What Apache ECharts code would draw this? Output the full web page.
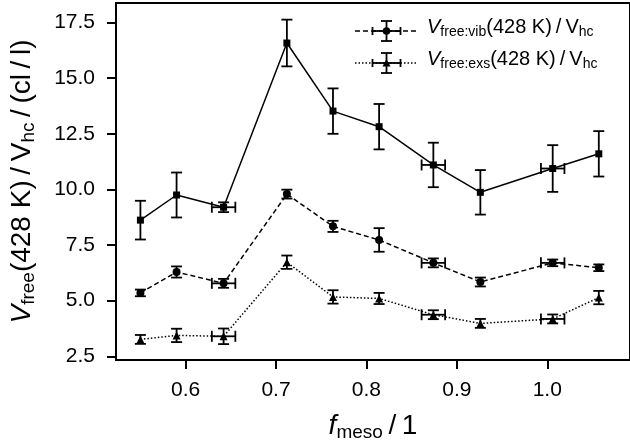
<!DOCTYPE html>
<html><head><meta charset="utf-8">
<script src="https://cdn.jsdelivr.net/npm/echarts@6/dist/echarts.min.js"></script>
<style>html,body{margin:0;padding:0;background:#fff}#c{width:630px;height:447px}</style>
</head><body><div id="c"></div>
<script>
// ---- data ----
const fMeso = [0.55, 0.59, 0.642, 0.712, 0.763, 0.814, 0.874, 0.926, 1.006, 1.057];
const fMesoErr = [0, 0, 0.013, 0, 0, 0, 0.013, 0, 0.013, 0];
const vFree = [8.62, 9.75, 9.20, 16.58, 13.52, 12.82, 11.10, 9.87, 10.94, 11.60];
const vFreeErr = [0.87, 1.01, 0.22, 1.05, 1.02, 1.02, 1.00, 1.00, 1.05, 1.02];
const vFreeVib = [5.35, 6.29, 5.78, 9.79, 8.34, 7.73, 6.70, 5.84, 6.70, 6.48];
const vFreeVibErr = [0.15, 0.25, 0.20, 0.20, 0.25, 0.53, 0.20, 0.20, 0.15, 0.15];
const vFreeExs = [3.26, 3.44, 3.40, 6.73, 5.17, 5.10, 4.37, 3.98, 4.18, 5.14];
const vFreeExsErr = [0.20, 0.30, 0.35, 0.30, 0.30, 0.25, 0.20, 0.20, 0.20, 0.30];
const xTicks = [0.6, 0.7, 0.8, 0.9, 1.0];
const yTicks = [2.5, 5.0, 7.5, 10.0, 12.5, 15.0, 17.5];

const FONT = "'Liberation Sans', Arial, Helvetica, sans-serif";
const T = '\u2009';
const chart = echarts.init(document.getElementById('c'), null, {renderer: 'canvas'});

function pts(ys) { return fMeso.map((x, i) => [x, ys[i]]); }
function errData(ys, es) { return fMeso.map((x, i) => [x, ys[i], es[i], fMesoErr[i]]); }

const barStyle = {stroke: '#000', lineWidth: 1.8, fill: 'none'};
function errRender(params, api) {
  const x = api.value(0), y = api.value(1), ey = api.value(2), ex = api.value(3);
  const c = api.coord([x, y]);
  const t = api.coord([x, y + ey]);
  const b = api.coord([x, y - ey]);
  const cw = 5.5;
  const ch = [
    {type: 'line', shape: {x1: c[0], y1: t[1], x2: c[0], y2: b[1]}, style: barStyle},
    {type: 'line', shape: {x1: c[0] - cw, y1: t[1], x2: c[0] + cw, y2: t[1]}, style: barStyle},
    {type: 'line', shape: {x1: c[0] - cw, y1: b[1], x2: c[0] + cw, y2: b[1]}, style: barStyle}
  ];
  if (ex > 0) {
    const l = api.coord([x - ex, y]), r = api.coord([x + ex, y]);
    ch.push({type: 'line', shape: {x1: l[0], y1: c[1], x2: r[0], y2: c[1]}, style: barStyle});
    ch.push({type: 'line', shape: {x1: l[0], y1: c[1] - cw, x2: l[0], y2: c[1] + cw}, style: barStyle});
    ch.push({type: 'line', shape: {x1: r[0], y1: c[1] - cw, x2: r[0], y2: c[1] + cw}, style: barStyle});
  }
  return {type: 'group', children: ch};
}

function lineSeries(name, ys, sym, type) {
  return {
    name, type: 'line', data: pts(ys), symbol: sym, symbolSize: sym === 'rect' ? 7 : 8,
    showSymbol: true, z: 5,
    lineStyle: {color: '#000', width: 1.5, type: type},
    itemStyle: {color: '#000', borderColor: '#000', borderWidth: 0},
    emphasis: {disabled: true}, animation: false
  };
}
function errSeries(ys, es) {
  return {type: 'custom', data: errData(ys, es), renderItem: errRender, z: 3, animation: false, silent: true,
          encode: {x: 0, y: 1}};
}

const subRich = {
  n: {fontSize: 20, fontFamily: FONT, color: '#000'},
  i: {fontSize: 20, fontFamily: FONT, fontStyle: 'italic', color: '#000'},
  s: {fontSize: 14, fontFamily: FONT, color: '#000', verticalAlign: 'bottom', padding: [10, 0, 0, 0]}
};
const bigRich = {
  n: {fontSize: 28, fontFamily: FONT, color: '#000'},
  i: {fontSize: 28, fontFamily: FONT, fontStyle: 'italic', color: '#000'},
  s: {fontSize: 19, fontFamily: FONT, color: '#000', verticalAlign: 'bottom', padding: [13, 0, 0, 0]}
};

function legendItem(y, dash, sym, label) {
  const cx = 386.5;
  const s = {stroke: '#000', lineWidth: 1.5, lineDash: dash};
  const items = [
    {type: 'line', shape: {x1: 355, y1: y, x2: 418, y2: y}, style: s},
    {type: 'line', shape: {x1: cx, y1: y - 10, x2: cx, y2: y + 10}, style: barStyle},
    {type: 'line', shape: {x1: cx - 5.5, y1: y - 10, x2: cx + 5.5, y2: y - 10}, style: barStyle},
    {type: 'line', shape: {x1: cx - 5.5, y1: y + 10, x2: cx + 5.5, y2: y + 10}, style: barStyle},
    {type: 'line', shape: {x1: cx - 14, y1: y, x2: cx + 14, y2: y}, style: barStyle},
    {type: 'line', shape: {x1: cx - 14, y1: y - 4, x2: cx - 14, y2: y + 4}, style: barStyle},
    {type: 'line', shape: {x1: cx + 14, y1: y - 4, x2: cx + 14, y2: y + 4}, style: barStyle},
    {type: 'text', left: 427, top: y - 14, style: {text: label, rich: subRich, fill: '#000'}}
  ];
  if (sym === 'circle') items.push({type: 'circle', shape: {cx: cx, cy: y, r: 3.8}, style: {fill: '#000'}, z: 10});
  else items.push({type: 'polygon', shape: {points: [[cx, y - 4], [cx - 4, y + 3.5], [cx + 4, y + 3.5]]}, style: {fill: '#000'}, z: 10});
  return items;
}

const option = {
  backgroundColor: '#fff',
  animation: false,
  grid: {left: 112, top: 3, right: -10, bottom: 84, show: true, borderColor: '#000', borderWidth: 2, backgroundColor: 'transparent'},
  xAxis: {
    type: 'value', min: 0.523, max: 1.0915,
    axisLine: {show: true, lineStyle: {color: '#000', width: 2}},
    axisTick: {show: true, inside: false, length: 9, lineStyle: {color: '#000', width: 2}, customValues: xTicks},
    axisLabel: {show: true, margin: 20, fontSize: 21, fontFamily: FONT, color: '#000', customValues: xTicks,
                formatter: v => v.toFixed(1)},
    splitLine: {show: false},
    name: '{i|f}{s|meso}{n|' + T + '/' + T + '1}', nameLocation: 'middle', nameGap: 50,
    nameTextStyle: {rich: bigRich}
  },
  yAxis: {
    type: 'value', min: 2.335, max: 18.378,
    axisLine: {show: true, lineStyle: {color: '#000', width: 2}},
    axisTick: {show: true, inside: false, length: 9, lineStyle: {color: '#000', width: 2}, customValues: yTicks},
    axisLabel: {show: true, margin: 21, fontSize: 21, fontFamily: FONT, color: '#000', customValues: yTicks,
                formatter: v => v.toFixed(1)},
    splitLine: {show: false},
    name: '{i|V}{s|free}{n|(428 K)' + T + '/' + T + 'V}{s|hc}{n|' + T + '/' + T + '(cl' + T + '/' + T + 'l)}',
    nameLocation: 'middle', nameGap: 78, nameRotate: 90,
    nameTextStyle: {rich: bigRich}
  },
  series: [
    errSeries(vFree, vFreeErr),
    errSeries(vFreeVib, vFreeVibErr),
    errSeries(vFreeExs, vFreeExsErr),
    lineSeries('total', vFree, 'rect', 'solid'),
    lineSeries('vib', vFreeVib, 'circle', [5, 3]),
    lineSeries('exs', vFreeExs, 'triangle', [1.5, 2])
  ],
  graphic: [].concat(
    legendItem(31, [5, 3], 'circle', '{i|V}{s|free:vib}{n|(428 K)' + T + '/' + T + 'V}{s|hc}'),
    legendItem(63, [1.5, 2], 'triangle', '{i|V}{s|free:exs}{n|(428 K)' + T + '/' + T + 'V}{s|hc}')
  )
};
chart.setOption(option);
</script>
</body></html>
